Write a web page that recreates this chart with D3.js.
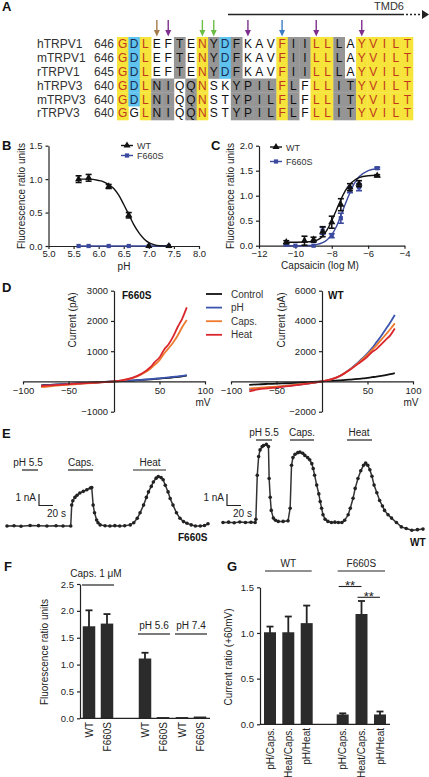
<!DOCTYPE html>
<html><head><meta charset="utf-8">
<script src="https://cdn.jsdelivr.net/npm/d3@7"></script>
<style>body{margin:0;background:#fff} svg{display:block;font-family:"Liberation Sans",Arial,sans-serif}</style>
</head><body><svg id="c" width="429" height="777"></svg>
<script>
// ---------- DATA ----------
// Panel A
const seqNames = ["hTRPV1","mTRPV1","rTRPV1","hTRPV3","mTRPV3","rTRPV3"];
const seqStarts = [646,646,645,640,640,640];
const seqs = ["GDLEFTENYDFKAVFIILLLAYVILT","GDLEFTENYDFKAVFIILLLAYVILT","GDLEFTENYDFKAVFIILLLAYVILT",
              "GDLNIQQNSKYPILFLFLLITYVILT","GDLNIQQNSTYPILFLFLLITYVILT","GGLNIQQNSTYPILFLFLLITYVILT"];
const seqShade = ["YBYWWGWYGBGWWWYGGYYGWYYYYY","YBYWWGWYGBGWWWYGGYYGWYYYYY","YBYWWGWYGBGWWWYGGYYGWYYYYY",
                  "YBYGGWGYWWGGGGYGWYYGGYYYYY","YBYGGWGYWWGGGGYGWYYGGYYYYY","YWYGGWGYWWGGGGYGWYYGGYYYYY"];
const arrowCols = [3,4,7,8,11,14,17,21];
const arrowColors = ["#a47a4c","#7e2f8e","#6cbd46","#6cbd46","#7e2f8e","#3a7dc4","#7e2f8e","#7e2f8e"];
// Panel B (pH)
const bSeries = ["WT","F660S"];
const bWT_pH = [5.6,5.8,6.2,6.6,7.0,7.4];
const bWT_val = [1.0,1.02,0.89,0.46,0.0,0.0];
const bWT_err = [0.05,0.05,0.03,0.04,0.0,0.0];
const bMut_pH = [5.6,5.8,6.2,6.6,7.0,7.4];
const bMut_val = [0,0,0,0,0,0];
const bFit_pH = [5.6,5.8,6.0,6.1,6.2,6.3,6.4,6.5,6.6,6.7,6.8,6.9,7.0,7.1,7.2,7.4];
const bFit_WT = [1.0,1.0,0.98,0.96,0.92,0.86,0.76,0.62,0.47,0.32,0.2,0.11,0.05,0.02,0.005,0.0];
const bXTicks = [5.0,5.5,6.0,6.5,7.0,7.5,8.0];
const bYTicks = [0.0,0.5,1.0,1.5];
// Panel C (capsaicin)
const cWT_x = [-10.5,-9.5,-9,-8.5,-8,-7.5,-7,-6.5,-5.5];
const cWT_val = [0.07,0.1,0.12,0.28,0.47,0.82,1.17,1.24,1.4];
const cWT_err = [0.03,0.09,0.05,0.1,0.12,0.12,0.07,0.06,0.02];
const cMut_x = [-10.5,-10,-9,-8.5,-8,-7.5,-7,-6.5,-5.5];
const cMut_val = [0.02,0.0,0.0,0.3,0.2,0.55,1.12,1.17,1.55];
const cMut_err = [0.02,0.01,0.01,0.07,0.04,0.1,0.06,0.07,0.02];
const cFit_x = [-10.5,-9.5,-9,-8.75,-8.5,-8.25,-8,-7.75,-7.5,-7.25,-7,-6.75,-6.5,-6,-5.5];
const cFit_WT = [0.07,0.075,0.09,0.12,0.19,0.32,0.5,0.71,0.92,1.1,1.23,1.31,1.36,1.4,1.41];
const cFit_Mut = [0.0,0.0,0.01,0.03,0.06,0.12,0.22,0.38,0.6,0.84,1.06,1.25,1.38,1.5,1.54];
const cXTicks = [-12,-10,-8,-6,-4];
const cYTicks = [0.0,0.5,1.0,1.5,2.0];
// Panel D (I-V)
const dConds = ["Control","pH","Caps.","Heat"];
const dColors = ["#111111","#3c56b0","#ee7a30","#d9272d"];
const dMv = [-80,-70,-60,-50,-40,-30,-20,-10,0,10,20,30,40,45,50,55,60,65,70,75,80];
const dMut = [
  [-130,-110,-95,-80,-65,-50,-35,-18,0,15,30,50,70,82,95,108,120,135,150,170,190],
  [-140,-118,-100,-85,-68,-52,-36,-18,0,18,35,55,78,92,105,120,135,150,165,185,210],
  [-190,-160,-130,-105,-85,-62,-42,-20,0,40,110,230,420,560,700,920,1100,1290,1520,1800,2030],
  [-150,-130,-110,-92,-74,-56,-38,-18,0,45,120,250,470,650,790,1050,1230,1480,1800,2080,2450]];
const dWT = [
  [-230,-190,-165,-145,-120,-95,-70,-35,0,35,75,120,170,200,240,280,320,370,420,480,550],
  [-520,-460,-410,-360,-300,-240,-170,-90,0,140,380,780,1280,1550,1850,2200,2600,3000,3450,3900,4400],
  [-480,-420,-380,-340,-290,-230,-160,-80,0,140,380,760,1230,1500,1780,2080,2400,2750,3100,3450,3840],
  [-650,-520,-460,-400,-330,-260,-180,-90,0,130,370,740,1180,1400,1650,1950,2150,2450,2750,3050,3500]];
const dXTicks = [-100,-50,50,100];
const dMutYTicks = [-1000,1000,2000,3000];
const dWTYTicks = [-2000,2000,4000,6000];
// Panel E (current traces, t in s, I in nA)
const eMut_t = [0,10,20,33,45,57,70,80,91,92.4,94,97,100,104,109,114,119,121,123,125,128,130,133,140,147,154,161,168,176,181,186,190,195,199,202,206,209,213,216,220,223,226,230,233,237,242,247,252,257,263,269,276,282,287];
const eMut_I = [0,0.02,-0.02,0.05,0.03,0,0.02,0,0,1.9,2.3,2.6,2.8,3.0,3.15,3.3,3.45,3.5,1.9,1.2,0.55,0.3,0.1,0.02,0,0.03,0,0.02,0.1,0.3,0.7,1.2,1.9,2.6,3.1,3.6,4.0,4.35,4.5,4.4,4.2,3.7,3.1,2.5,1.9,1.2,0.7,0.4,0.25,0.1,0,0,0.05,0.2];
const eWT_t = [0,8,16,24,32,40,46,47,49,51,53,56,58,62,65,66,67.5,69,72,75,79,86,93,96,98,100,103,107,110,114,117,121,124,127,129,131,134,137,139,141,143,146,150,155,160,165,170,174,179,182,186,189,193,197,201,204,207,210,213,216,220,224,228,231,236,241,248,255,262,270,278,286];
const eWT_I = [0,0.03,-0.02,0.05,0,0.02,0,0.3,4.3,6.0,6.6,6.9,7.0,7.1,6.9,4.0,2.3,1.1,0.4,0.2,0.1,0.1,0.15,1.3,5.2,5.9,6.2,6.35,6.4,6.3,6.1,5.9,5.7,5.35,4.9,4.3,3.4,2.6,1.9,1.3,0.7,0.3,0.1,0,0.03,0,0,0.2,0.7,1.3,2.2,3.1,4.0,4.7,5.2,5.4,5.2,4.8,4.2,3.4,2.7,2.0,1.5,1.1,0.7,0.4,0.0,-0.4,-0.55,-0.7,-0.65,-0.6];
// Panel F (fluorescence bars)
const fLabels = ["WT","F660S","WT","F660S","WT","F660S"];
const fGroups = ["Caps. 1 μM","Caps. 1 μM","pH 5.6","pH 5.6","pH 7.4","pH 7.4"];
const fVals = [1.7,1.75,1.1,0.01,0.01,0.02];
const fErrs = [0.31,0.19,0.12,0,0,0];
const fYTicks = [0.0,0.5,1.0,1.5,2.0,2.5];
// Panel G (current ratio bars)
const gLabels = ["pH/Caps.","Heat/Caps.","pH/Heat","pH/Caps.","Heat/Caps.","pH/Heat"];
const gGroups = ["WT","WT","WT","F660S","F660S","F660S"];
const gVals = [1.0,1.0,1.1,0.1,1.2,0.1];
const gErrs = [0.07,0.18,0.2,0.02,0.15,0.04];
const gYTicks = [0.0,0.5,1.0,1.5];

// ---------- DRAW ----------
const svg = d3.select('#c');
const FONT = 'Liberation Sans, Arial, sans-serif';
const INK = '#222';
function styleAxis(g, fs){
  g.attr('font-family', FONT).attr('font-size', fs||10);
  g.selectAll('path.domain').attr('stroke', INK).attr('stroke-width', 1.2);
  g.selectAll('.tick line').attr('stroke', INK).attr('stroke-width', 1.2);
  g.selectAll('.tick text').attr('fill', INK);
}
function txt(x, y, s, o){
  o = o||{};
  const t = svg.append('text').attr('x', x).attr('y', y).text(s)
    .attr('font-size', o.fs||10).attr('fill', o.fill||INK).attr('text-anchor', o.anchor||'start')
    .attr('font-weight', o.bold?'bold':'normal');
  if (o.rot) t.attr('transform', `rotate(${o.rot},${x},${y})`);
  return t;
}
function hline(x1, x2, y, w){
  svg.append('line').attr('x1', x1).attr('x2', x2).attr('y1', y).attr('y2', y).attr('stroke', INK).attr('stroke-width', w||1.2);
}

// Panel letters
[["A",2,11],["B",2,150],["C",211,150],["D",2,292],["E",2,438],["F",4,571],["G",227,571]]
  .forEach(([l,x,y]) => txt(x, y, l, {fs:13, bold:true, fill:'#111'}));

// ----- Panel A -----
const colX = d3.scaleBand().domain(d3.range(26)).range([117, 413]);
const rowY = d3.scaleBand().domain(d3.range(6)).range([37, 120]);
const shadeFill = {Y:'#f6e43a', B:'#5ec3ee', G:'#959595', W:'#ffffff'};
const letterFill = {Y:'#c0391e', B:'#1b2d55', G:'#111', W:'#111'};
seqs.forEach((s, r) => {
  s.split('').forEach((ch, c) => {
    const sh = seqShade[r][c];
    if (sh !== 'W') svg.append('rect').attr('x', colX(c)).attr('y', rowY(r))
      .attr('width', colX.bandwidth()+0.3).attr('height', rowY.bandwidth()+0.3).attr('fill', shadeFill[sh]);
    svg.append('text').attr('x', colX(c)+colX.bandwidth()/2).attr('y', rowY(r)+rowY.bandwidth()/2+4.3)
      .attr('text-anchor','middle').attr('font-size', 12).attr('fill', letterFill[sh]).text(ch);
  });
  txt(37, rowY(r)+rowY.bandwidth()/2+4.3, seqNames[r], {fs:12, fill:'#333'});
  txt(114, rowY(r)+rowY.bandwidth()/2+4.3, seqStarts[r], {fs:12, fill:'#333', anchor:'end'});
});
arrowCols.forEach((c, i) => {
  const x = colX(c)+colX.bandwidth()/2;
  svg.append('line').attr('x1', x).attr('x2', x).attr('y1', 20).attr('y2', 31).attr('stroke', arrowColors[i]).attr('stroke-width', 1.4);
  svg.append('path').attr('d', `M${x-3},${30}L${x+3},${30}L${x},${36.5}Z`).attr('fill', arrowColors[i]);
});
// TMD6 arrow
hline(228, 404, 14.5, 1.6);
svg.append('line').attr('x1', 406).attr('x2', 423).attr('y1', 14.5).attr('y2', 14.5).attr('stroke', INK)
  .attr('stroke-width', 1.6).attr('stroke-dasharray', '2,2');
svg.append('path').attr('d', 'M422,10L429,14.5L422,19Z').attr('fill', INK);
txt(404, 10, 'TMD6', {fs:11, anchor:'end', fill:'#333'});

// ----- Panel B -----
const bX = d3.scaleLinear().domain([5,8]).range([48.5,199]);
const bY = d3.scaleLinear().domain([0,1.5]).range([246,145.7]);
const MUT = '#3b4a9e';
styleAxis(svg.append('g').attr('transform','translate(0,246)')
  .call(d3.axisBottom(bX).tickValues(bXTicks).tickFormat(d3.format('.1f')).tickSize(3).tickPadding(1.5).tickSizeOuter(0)), 9.5);
styleAxis(svg.append('g').attr('transform','translate(48.5,0)')
  .call(d3.axisLeft(bY).tickValues(bYTicks).tickFormat(d3.format('.1f')).tickSize(3).tickSizeOuter(0)), 9.5);
txt(124, 270, 'pH', {anchor:'middle'});
txt(25, 196, 'Fluorescence ratio units', {anchor:'middle', rot:-90});
const lineB = d3.line().curve(d3.curveMonotoneX);
svg.append('path').attr('d', lineB(bMut_pH.map((p,i)=>[bX(p), bY(bMut_val[i])]))).attr('fill','none').attr('stroke',MUT).attr('stroke-width',1.4);
svg.append('path').attr('d', lineB(bFit_pH.map((p,i)=>[bX(p), bY(bFit_WT[i])]))).attr('fill','none').attr('stroke','#111').attr('stroke-width',1.4);
const sq = d3.symbol().type(d3.symbolSquare).size(18);
const tri = d3.symbol().type(d3.symbolTriangle).size(22);
bMut_pH.forEach((p,i)=> svg.append('path').attr('d', sq()).attr('transform',`translate(${bX(p)},${bY(bMut_val[i])})`).attr('fill',MUT));
function errBar(x, yTop, yBot, color, w){
  svg.append('line').attr('x1',x).attr('x2',x).attr('y1',yTop).attr('y2',yBot).attr('stroke',color).attr('stroke-width',1.6);
  [yTop,yBot].forEach(y=> svg.append('line').attr('x1',x-w).attr('x2',x+w).attr('y1',y).attr('y2',y).attr('stroke',color).attr('stroke-width',1.6));
}
bWT_pH.forEach((p,i)=>{
  if (bWT_err[i]>0) errBar(bX(p), bY(bWT_val[i]+bWT_err[i]), bY(bWT_val[i]-bWT_err[i]), '#111', 3);
  svg.append('path').attr('d', tri()).attr('transform',`translate(${bX(p)},${bY(bWT_val[i])})`).attr('fill','#111');
});
// legend B
[[0,'#111',tri,145.5],[1,MUT,sq,155.5]].forEach(([k,col,sym,y])=>{
  svg.append('line').attr('x1',121).attr('x2',133).attr('y1',y).attr('y2',y).attr('stroke',col).attr('stroke-width',1.4);
  svg.append('path').attr('d', sym()).attr('transform',`translate(127,${y})`).attr('fill',col);
  txt(137, y+3.5, bSeries[k], {fs:9, fill:'#333'});
});

// ----- Panel C -----
const cX = d3.scaleLinear().domain([-12,-4]).range([259,404.5]);
const cY = d3.scaleLinear().domain([0,2]).range([245.7,145.7]);
styleAxis(svg.append('g').attr('transform','translate(0,245.7)')
  .call(d3.axisBottom(cX).tickValues(cXTicks).tickSize(3).tickPadding(1.5).tickSizeOuter(0)), 9.5);
styleAxis(svg.append('g').attr('transform','translate(259,0)')
  .call(d3.axisLeft(cY).tickValues(cYTicks).tickFormat(d3.format('.1f')).tickSize(3).tickSizeOuter(0)), 9.5);
txt(320, 269, 'Capsaicin (log M)', {anchor:'middle'});
txt(234, 196, 'Fluorescence ratio units', {anchor:'middle', rot:-90});
const lineC = d3.line().curve(d3.curveMonotoneX);
svg.append('path').attr('d', lineC(cFit_x.map((p,i)=>[cX(p), cY(cFit_Mut[i])]))).attr('fill','none').attr('stroke',MUT).attr('stroke-width',1.4);
svg.append('path').attr('d', lineC(cFit_x.map((p,i)=>[cX(p), cY(cFit_WT[i])]))).attr('fill','none').attr('stroke','#111').attr('stroke-width',1.4);
cMut_x.forEach((p,i)=>{
  if (cMut_err[i]>0.015) errBar(cX(p), cY(cMut_val[i]+cMut_err[i]), cY(cMut_val[i]-cMut_err[i]), MUT, 3);
  svg.append('path').attr('d', sq()).attr('transform',`translate(${cX(p)},${cY(cMut_val[i])})`).attr('fill',MUT);
});
cWT_x.forEach((p,i)=>{
  if (cWT_err[i]>0.015) errBar(cX(p), cY(cWT_val[i]+cWT_err[i]), cY(cWT_val[i]-cWT_err[i]), '#111', 3);
  svg.append('path').attr('d', tri()).attr('transform',`translate(${cX(p)},${cY(cWT_val[i])})`).attr('fill','#111');
});
[[0,'#111',tri,147],[1,MUT,sq,161.5]].forEach(([k,col,sym,y])=>{
  svg.append('line').attr('x1',270).attr('x2',282).attr('y1',y).attr('y2',y).attr('stroke',col).attr('stroke-width',1.4);
  svg.append('path').attr('d', sym()).attr('transform',`translate(276,${y})`).attr('fill',col);
  txt(286, y+3.5, bSeries[k], {fs:9, fill:'#333'});
});

// ----- Panel D -----
function ivPanel(xr, yDomain, yTicks, data, label, labX, ylabX){
  const x = d3.scaleLinear().domain([-100,100]).range(xr);
  const y = d3.scaleLinear().domain(yDomain).range([411.7,290.7]);
  const x0 = x(0), y0 = y(0);
  data.forEach((vals, k) => {
    svg.append('path').attr('d', d3.line().curve(d3.curveMonotoneX)(dMv.map((m,i)=>[x(m), y(vals[i])])))
      .attr('fill','none').attr('stroke', dColors[k]).attr('stroke-width', 1.8);
  });
  styleAxis(svg.append('g').attr('transform',`translate(0,${y0})`)
    .call(d3.axisBottom(x).tickValues(dXTicks).tickFormat(d3.format('d')).tickSize(3).tickSizeOuter(0)), 9.5);
  styleAxis(svg.append('g').attr('transform',`translate(${x0},0)`)
    .call(d3.axisLeft(y).tickValues(yTicks).tickFormat(d3.format('d')).tickSize(3).tickSizeOuter(0)), 9.5);
  txt(labX, 299, label, {fs:10, bold:true, fill:'#111'});
  txt(xr[1]-2, 406, 'mV', {anchor:'middle'});
  txt(ylabX, 320, 'Current (pA)', {anchor:'middle', rot:-90});
}
ivPanel([23,205], [-1000,3000], dMutYTicks, dMut, 'F660S', 122, 76);
ivPanel([231,413], [-2000,6000], dWTYTicks, dWT, 'WT', 328, 285);
dConds.forEach((c,k)=>{
  const y = 294 + k*13.6;
  svg.append('line').attr('x1',206).attr('x2',222).attr('y1',y).attr('y2',y).attr('stroke',dColors[k]).attr('stroke-width',1.8);
  txt(231, y+3.5, c, {fs:10, fill:'#333'});
});

// ----- Panel E -----
function trace(t, I, xr, tMax, yBase, label, lx, ly){
  const x = d3.scaleLinear().domain([0,tMax]).range(xr);
  const y = d3.scaleLinear().domain([0,1]).range([yBase, yBase-11]);
  svg.append('path').attr('d', d3.line()(t.map((v,i)=>[x(v), y(I[i])])))
    .attr('fill','none').attr('stroke','#333').attr('stroke-width',1.5);
  t.forEach((v,i)=> svg.append('circle').attr('cx', x(v)).attr('cy', y(I[i])).attr('r', 1.8).attr('fill','#222'));
  txt(lx, ly, label, {fs:10, bold:true, fill:'#111'});
}
trace(eMut_t, eMut_I, [7,208], 287, 526, 'F660S', 178, 541);
trace(eWT_t, eWT_I, [223,423], 286, 522.5, 'WT', 410, 546);
// stimulus labels
[[28,466,470,22,38,'pH 5.5'],[81,466,470,68,93,'Caps.'],[150,466,470,133,166,'Heat'],
 [264,436,440,256,272,'pH 5.5'],[302,436,440,290,314,'Caps.'],[359,436,440,347,372,'Heat']]
 .forEach(([x,ty,ly,x1,x2,s])=>{ txt(x, ty, s, {anchor:'middle', fs:10}); hline(x1,x2,ly,1.2); });
// scale bars
[[39,25,47],[227,213,233]].forEach(([x,tx,sx])=>{
  svg.append('path').attr('d',`M${x},494V505.5H${x+14}`).attr('fill','none').attr('stroke',INK).attr('stroke-width',1.2);
  txt(x-3, 501, '1 nA', {anchor:'end', fs:10});
  txt(sx, 517, '20 s', {anchor:'start', fs:10});
});

// ----- Panel F -----
const fX = d3.scaleOrdinal().domain(d3.range(6)).range([89,107,145,163,182,200]);
const fY = d3.scaleLinear().domain([0,2.5]).range([718.3,584]);
const fw = 12.5;
fVals.forEach((v,i)=>{
  const cx = fX(i);
  if (fErrs[i]>0){
    svg.append('line').attr('x1',cx).attr('x2',cx).attr('y1',fY(v)).attr('y2',fY(v+fErrs[i])).attr('stroke','#222').attr('stroke-width',1.8);
    svg.append('line').attr('x1',cx-3.5).attr('x2',cx+3.5).attr('y1',fY(v+fErrs[i])).attr('y2',fY(v+fErrs[i])).attr('stroke','#222').attr('stroke-width',1.8);
  }
  svg.append('rect').attr('x',cx-fw/2).attr('width',fw).attr('y',fY(v)-0.7).attr('height',fY(0)-fY(v)+0.7).attr('fill','#2b2b2b');
  txt(cx+3.5, 722, fLabels[i], {anchor:'end', rot:-90});
});
styleAxis(svg.append('g').attr('transform','translate(80,0)')
  .call(d3.axisLeft(fY).tickValues(fYTicks).tickFormat(d3.format('.1f')).tickSize(3).tickSizeOuter(0)), 9.5);
hline(80, 210, 718.3, 1.2);
txt(48, 652, 'Fluorescence ratio units', {anchor:'middle', rot:-90});
const fGroupSpans = d3.groups(d3.range(6), i=>fGroups[i]);
fGroupSpans.forEach(([g, idx])=>{
  const a = fX(idx[0])-7, b = fX(idx[idx.length-1])+7;
  const ly = g.startsWith('Caps') ? 585 : 634;
  const ty = g.startsWith('Caps') ? 577 : 629;
  hline(a, b, ly, 1.2);
  txt(g.startsWith('Caps') ? 96 : (a+b)/2, ty, g, {anchor:'middle'});
});

// ----- Panel G -----
const gX = d3.scaleOrdinal().domain(d3.range(6)).range([270,288.3,306.7,342.7,361.5,380]);
const gY = d3.scaleLinear().domain([0,1.5]).range([724.3,587.3]);
gVals.forEach((v,i)=>{
  const cx = gX(i);
  svg.append('line').attr('x1',cx).attr('x2',cx).attr('y1',gY(v)).attr('y2',gY(v+gErrs[i])).attr('stroke','#222').attr('stroke-width',1.8);
  svg.append('line').attr('x1',cx-3.5).attr('x2',cx+3.5).attr('y1',gY(v+gErrs[i])).attr('y2',gY(v+gErrs[i])).attr('stroke','#222').attr('stroke-width',1.8);
  svg.append('rect').attr('x',cx-6).attr('width',12).attr('y',gY(v)-0.7).attr('height',gY(0)-gY(v)+0.7).attr('fill','#2b2b2b');
  txt(cx+3.5, 728, gLabels[i], {anchor:'end', rot:-90});
});
styleAxis(svg.append('g').attr('transform','translate(260,0)')
  .call(d3.axisLeft(gY).tickValues(gYTicks).tickFormat(d3.format('.1f')).tickSize(3).tickSizeOuter(0)), 9.5);
hline(260, 390, 724.3, 1.2);
txt(232, 657, 'Current ratio (+60mV)', {anchor:'middle', rot:-90});
d3.groups(d3.range(6), i=>gGroups[i]).forEach(([g, idx])=>{
  const a = gX(idx[0])-5, b = gX(idx[idx.length-1])+5;
  hline(a, b, 571, 1.2);
  txt((a+b)/2, 567, g, {anchor:'middle'});
});
// significance
[[3,4,586.5],[4,5,597.3]].forEach(([i,j,y])=>{
  hline(gX(i)-4, gX(j), y, 1.1);
  txt((gX(i)+gX(j))/2-2, y+3.5, '**', {anchor:'middle', fs:13});
});
</script></body></html>
